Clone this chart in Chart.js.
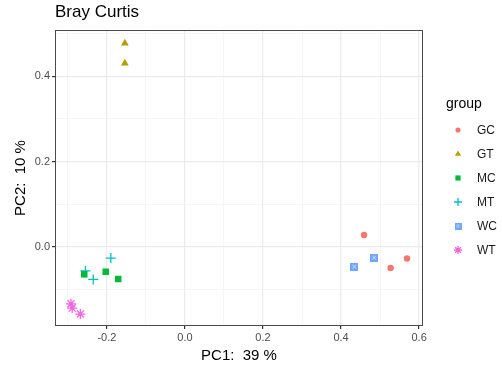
<!DOCTYPE html>
<html>
<head>
<meta charset="utf-8">
<script src="https://cdn.jsdelivr.net/npm/chart.js@4.4.1/dist/chart.umd.min.js"></script>
<style>
  html, body { margin: 0; padding: 0; background: #fff; }
  #wrap { width: 502px; height: 365px; position: relative; }
</style>
</head>
<body>
<div id="wrap"><canvas id="pcoaChart" width="502" height="365"></canvas></div>
<script>
// groups and their points (PC1, PC2)
var groups = ['GC', 'GT', 'MC', 'MT', 'WC', 'WT'];
var colores = ['#F8766D', '#B79F00', '#00BA38', '#00BFC4', '#619CFF', '#F564E3'];
var formas = ['circle', 'triangle', 'rect', 'cross', 'boxcross', 'star'];

var gcX = [0.459, 0.527, 0.569];
var gcY = [0.028, -0.049, -0.027];
var gtX = [-0.154, -0.154];
var gtY = [0.477, 0.430];
var mcX = [-0.258, -0.203, -0.171];
var mcY = [-0.064, -0.058, -0.075];
var mtX = [-0.190, -0.255, -0.235];
var mtY = [-0.026, -0.056, -0.076];
var wcX = [0.434, 0.485];
var wcY = [-0.046, -0.025];
var wtX = [-0.292, -0.289, -0.268];
var wtY = [-0.133, -0.143, -0.157];

var xTicks = [-0.3, -0.2, -0.1, 0.0, 0.1, 0.2, 0.3, 0.4, 0.5, 0.6];
var yTicks = [-0.1, 0.0, 0.1, 0.2, 0.3, 0.4, 0.5];
var xLabels = ['-0.2', '0.0', '0.2', '0.4', '0.6'];
var yLabels = ['0.0', '0.2', '0.4'];

var seriesX = [gcX, gtX, mcX, mtX, wcX, wtX];
var seriesY = [gcY, gtY, mcY, mtY, wcY, wtY];

var fuente = '"Liberation Sans", Arial, sans-serif';

function puntos(xs, ys) {
    return xs.map(function(x, i) { return { x: x, y: ys[i] }; });
}

// square with an x inside (ggplot shape 7)
function hacerBoxCross(color, lado) {
    var c = document.createElement('canvas');
    c.width = lado; c.height = lado;
    var g = c.getContext('2d');
    g.fillStyle = color;
    g.globalAlpha = 0.9;
    g.fillRect(0, 0, lado, lado);
    g.globalAlpha = 1;
    g.strokeStyle = 'rgba(255,255,255,0.6)';
    g.lineWidth = 1;
    g.beginPath();
    g.moveTo(2, 2); g.lineTo(lado - 2, lado - 2);
    g.moveTo(lado - 2, 2); g.lineTo(2, lado - 2);
    g.stroke();
    return c;
}

function estiloPunto(i, lado) {
    if (formas[i] === 'boxcross') return hacerBoxCross(colores[i], lado);
    return formas[i];
}

var radios = { circle: 3.2, triangle: 4.5, rect: 4.6, cross: 5, boxcross: 4, star: 5 };

var datasets = groups.map(function(g, i) {
    var lineal = formas[i] === 'cross' || formas[i] === 'star';
    return {
        label: g,
        data: puntos(seriesX[i], seriesY[i]),
        pointStyle: estiloPunto(i, 8),
        backgroundColor: colores[i],
        borderColor: colores[i],
        borderWidth: lineal ? 1.3 : 0,
        pointRadius: radios[formas[i]],
        pointHoverRadius: radios[formas[i]]
    };
});

function esMayor(v) {
    return Math.abs(Math.round(v * 10) % 2) === 0;
}

var ggPlugin = {
    id: 'ggEstilo',
    beforeDatasetsDraw: function(chart) {
        // panel border
        var a = chart.chartArea, ctx = chart.ctx;
        ctx.save();
        ctx.strokeStyle = '#4a4a4a';
        ctx.lineWidth = 1;
        ctx.strokeRect(Math.round(a.left) + 0.5, Math.round(a.top) + 0.5,
            Math.round(a.right - a.left) - 1, Math.round(a.bottom - a.top) - 1);
        ctx.restore();
    },
    afterDraw: function(chart) {
        var ctx = chart.ctx;
        ctx.save();
        ctx.textBaseline = 'middle';
        ctx.fillStyle = '#000';
        ctx.font = '17px ' + fuente;
        ctx.fillText('Bray Curtis', chart.chartArea.left, 12);
        ctx.font = '14px ' + fuente;
        ctx.fillText('group', 446, 104);
        ctx.font = '12px ' + fuente;
        groups.forEach(function(g, i) {
            var ds = chart.data.datasets[i];
            var yy = 130 + 24 * i;
            ctx.fillStyle = colores[i];
            ctx.strokeStyle = colores[i];
            ctx.lineWidth = ds.borderWidth;
            var estilo = formas[i] === 'boxcross' ? estiloPunto(i, 7) : ds.pointStyle;
            Chart.helpers.drawPoint(ctx, {
                pointStyle: estilo,
                radius: ds.pointRadius * 0.8,
                rotation: 0,
                borderWidth: ds.borderWidth
            }, 458, yy);
            ctx.fillStyle = '#1a1a1a';
            ctx.fillText(g, 477, yy + 1);
        });
        ctx.restore();
    }
};

var ctx = document.getElementById('pcoaChart').getContext('2d');
var pcoaChart = new Chart(ctx, {
    type: 'scatter',
    data: { datasets: datasets },
    plugins: [ggPlugin],
    options: {
        responsive: false,
        animation: false,
        layout: { padding: { left: 12, right: 79, top: 30, bottom: 0 } },
        plugins: {
            legend: { display: false },
            tooltip: { enabled: false }
        },
        scales: {
            x: {
                type: 'linear',
                min: -0.333,
                max: 0.61,
                afterBuildTicks: function(scale) {
                    scale.ticks = xTicks.map(function(v) { return { value: v }; });
                },
                afterFit: function(scale) { scale.height = 39; },
                ticks: {
                    color: '#4D4D4D',
                    font: { family: fuente, size: 11 },
                    padding: 2,
                    maxRotation: 0,
                    autoSkip: false,
                    callback: function(v) {
                        return esMayor(v) ? xLabels[xTicks.filter(esMayor).indexOf(v)] : '';
                    }
                },
                grid: {
                    color: function(c) { return esMayor(c.tick.value) ? '#EBEBEB' : '#F4F4F4'; },
                    lineWidth: function(c) { return esMayor(c.tick.value) ? 1.2 : 0.8; },
                    tickColor: function(c) { return esMayor(c.tick.value) ? '#333333' : 'rgba(0,0,0,0)'; },
                    tickLength: 3
                },
                border: { display: false },
                title: {
                    display: true,
                    text: 'PC1:  39 %',
                    color: '#000',
                    font: { family: fuente, size: 15 },
                    padding: { top: 0, bottom: 0 }
                }
            },
            y: {
                type: 'linear',
                min: -0.185,
                max: 0.508,
                afterBuildTicks: function(scale) {
                    scale.ticks = yTicks.map(function(v) { return { value: v }; });
                },
                afterFit: function(scale) { scale.width = 43; },
                ticks: {
                    color: '#4D4D4D',
                    font: { family: fuente, size: 11 },
                    padding: 2,
                    autoSkip: false,
                    callback: function(v) {
                        return esMayor(v) ? yLabels[yTicks.filter(esMayor).indexOf(v)] : '';
                    }
                },
                grid: {
                    color: function(c) { return esMayor(c.tick.value) ? '#EBEBEB' : '#F4F4F4'; },
                    lineWidth: function(c) { return esMayor(c.tick.value) ? 1.2 : 0.8; },
                    tickColor: function(c) { return esMayor(c.tick.value) ? '#333333' : 'rgba(0,0,0,0)'; },
                    tickLength: 3
                },
                border: { display: false },
                title: {
                    display: true,
                    text: 'PC2:  10 %',
                    color: '#000',
                    font: { family: fuente, size: 15 },
                    padding: { top: 0, bottom: 0 }
                }
            }
        }
    }
});
</script>
</body>
</html>
